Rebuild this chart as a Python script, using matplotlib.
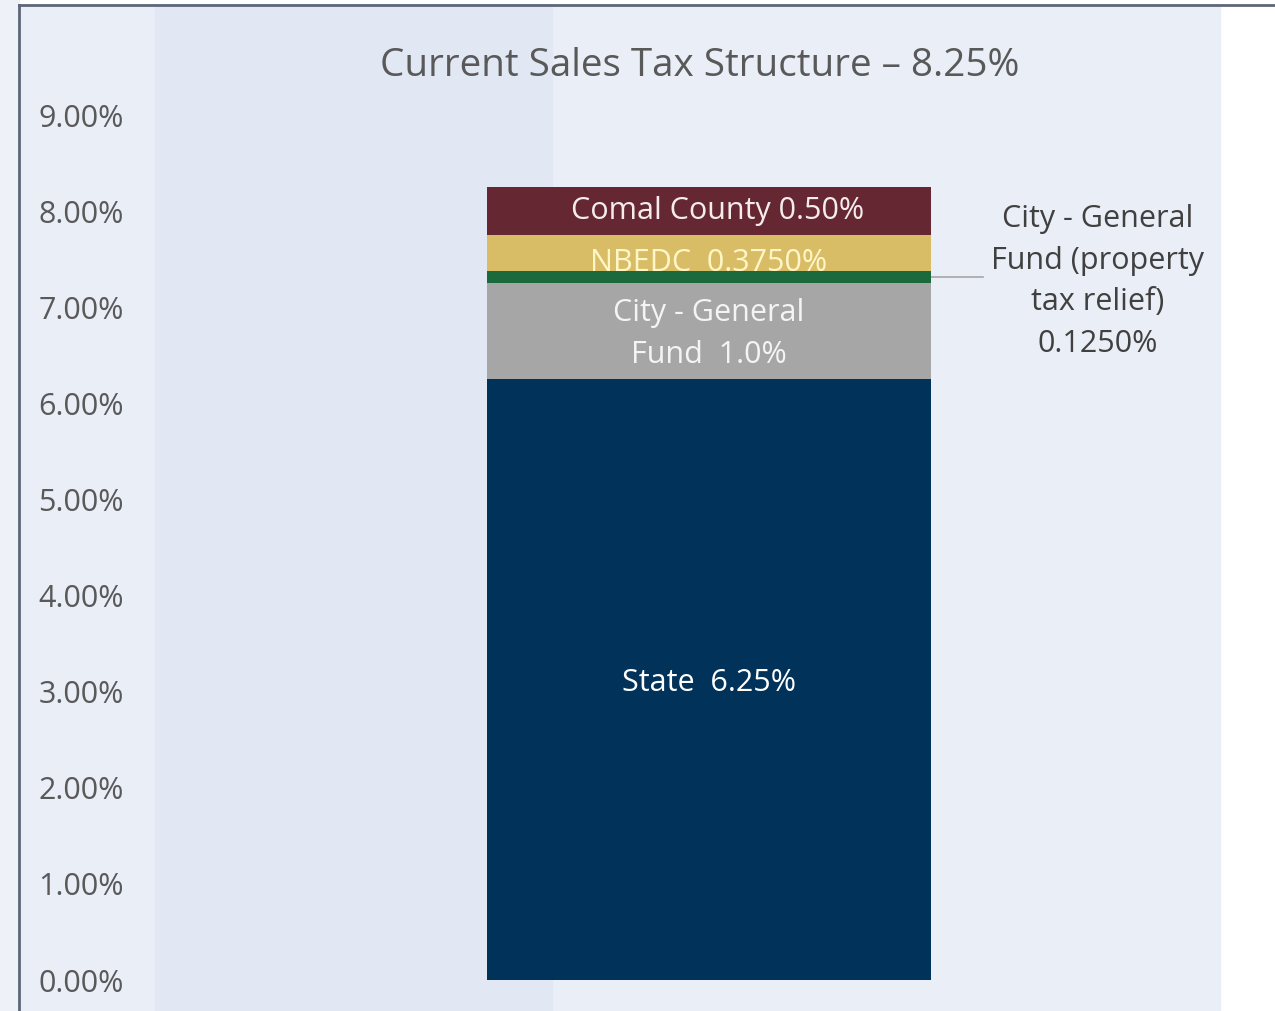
import matplotlib.pyplot as plt
from matplotlib.patches import Rectangle
from matplotlib.lines import Line2D

# data
category = ["Current"]
segments = ["State", "City - General Fund", "City - General Fund (property tax relief)", "NBEDC", "Comal County"]
rates = [6.25, 1.0, 0.125, 0.375, 0.50]
seg_colors = ["#00325a", "#a6a6a6", "#1b6a3c", "#d9bd66", "#652833"]
seg_labels = ["State  6.25%", "City - General\nFund  1.0%", "", "NBEDC  0.3750%", "Comal County 0.50%"]
label_colors = ["#ffffff", "#f4f4f4", "#ffffff", "#fff6c8", "#f6ecec"]
yticks = [0, 1, 2, 3, 4, 5, 6, 7, 8, 9]
ytick_labels = ["%.2f%%" % t for t in yticks]
callout = "City - General\nFund (property\ntax relief)\n0.1250%"
title = "Current Sales Tax Structure \u2013 8.25%"

plt.rcParams['font.family'] = ['Open Sans', 'DejaVu Sans']

W, H = 1275, 1011
fig = plt.figure(figsize=(W / 100, H / 100), dpi=100)
fig.patch.set_facecolor("white")

def fx(px):
    return px / W

def fy(py):
    return 1 - py / H

# background panels (figure pixel coords)
fig.patches.append(Rectangle((0, 0), fx(19), 1, transform=fig.transFigure, color="#eef1f7", zorder=-3))
fig.patches.append(Rectangle((fx(19), 0), fx(1220 - 19), fy(5), transform=fig.transFigure, color="#e9eef7", zorder=-3))
fig.patches.append(Rectangle((fx(155), 0), fx(552 - 155), fy(5), transform=fig.transFigure, color="#e1e8f4", zorder=-2))
fig.lines.append(Line2D([fx(19), fx(19)], [0, fy(5)], transform=fig.transFigure, color="#5d6779", lw=2, zorder=-1))
fig.lines.append(Line2D([fx(19), 1], [fy(5), fy(5)], transform=fig.transFigure, color="#5d6779", lw=2, zorder=-1))

ax = fig.add_axes([fx(137), fy(980), fx(1220 - 137), fy(115) - fy(980)])
ax.set_zorder(5)
ax.set_facecolor("none")
ax.set_xlim(-1.0306, 0.9207)
ax.set_ylim(0, 9)

bottom = 0
mids = []
for r, c in zip(rates, seg_colors):
    ax.bar(category, r, bottom=bottom, color=c, width=0.8, zorder=2)
    mids.append(bottom + r / 2)
    bottom += r

label_offsets = [-0.03, -0.03, 0, -0.10, 0]
label_xs = [0, 0, 0, 0, 0.016]
for lab, m, off, lx, lc in zip(seg_labels, mids, label_offsets, label_xs, label_colors):
    if lab:
        ax.text(lx, m + off, lab, ha="center", va="center", color=lc,
                fontsize=22, linespacing=1.5, zorder=3)

# callout for the thin green segment
ax.plot([0.4, 0.494], [mids[2], mids[2]], color="#a6a6a6", lw=1.2, zorder=1)
ax.text(0.7, 7.27, callout, ha="center", va="center", color="#404040",
        fontsize=22, linespacing=1.5)

ax.set_yticks(yticks)
ax.set_yticklabels(ytick_labels)
ax.tick_params(axis="y", length=0, pad=71, labelsize=22, labelcolor="#595959")
for t in ax.get_yticklabels():
    t.set_horizontalalignment("left")
ax.set_xticks([])
for s in ax.spines.values():
    s.set_visible(False)

fig.text(fx(700), fy(66), title, ha="center", va="center", fontsize=27.8, color="#595959")

fig.savefig("out.png", dpi=100)
